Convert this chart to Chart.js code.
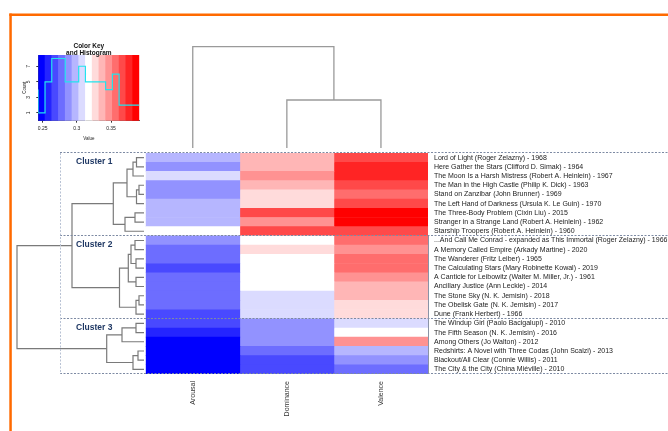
<!DOCTYPE html>
<html>
<head>
<meta charset="utf-8">
<script src="https://cdn.jsdelivr.net/npm/chart.js@4.4.1/dist/chart.umd.min.js"></script>
<style>
  html, body { margin: 0; padding: 0; background: #fff; }
  #wrap { position: relative; width: 668px; height: 431px; overflow: hidden; background: #fff; }
  #wrap canvas { position: absolute; left: 0; top: 0; }
</style>
</head>
<body>
<div id="wrap">
  <canvas id="rowDendro" width="668" height="431"></canvas>
  <canvas id="colDendro" width="668" height="431"></canvas>
  <canvas id="colorKey" width="668" height="431"></canvas>
  <canvas id="heatmap" width="668" height="431"></canvas>
</div>
<script>
// rows, top to bottom as the dendrogram orders them
const bookTitles = [
  'Lord of Light (Roger Zelazny) - 1968',
  'Here Gather the Stars (Clifford D. Simak) - 1964',
  'The Moon Is a Harsh Mistress (Robert A. Heinlein) - 1967',
  'The Man in the High Castle (Philip K. Dick) - 1963',
  'Stand on Zanzibar (John Brunner) - 1969',
  'The Left Hand of Darkness (Ursula K. Le Guin) - 1970',
  'The Three-Body Problem (Cixin Liu) - 2015',
  'Stranger in a Strange Land (Robert A. Heinlein) - 1962',
  'Starship Troopers (Robert A. Heinlein) - 1960',
  '...And Call Me Conrad - expanded as This Immortal (Roger Zelazny) - 1966',
  'A Memory Called Empire (Arkady Martine) - 2020',
  'The Wanderer (Fritz Leiber) - 1965',
  'The Calculating Stars (Mary Robinette Kowal) - 2019',
  'A Canticle for Leibowitz (Walter M. Miller, Jr.) - 1961',
  'Ancillary Justice (Ann Leckie) - 2014',
  'The Stone Sky (N. K. Jemisin) - 2018',
  'The Obelisk Gate (N. K. Jemisin) - 2017',
  'Dune (Frank Herbert) - 1966',
  'The Windup Girl (Paolo Bacigalupi) - 2010',
  'The Fifth Season (N. K. Jemisin) - 2016',
  'Among Others (Jo Walton) - 2012',
  'Redshirts: A Novel with Three Codas (John Scalzi) - 2013',
  'Blackout/All Clear (Connie Willis) - 2011',
  'The City & the City (China Miéville) - 2010'
];
const colNames = ['Arousal', 'Dominance', 'Valence'];

// cell values (estimated from the colour bands)
const arousal = [0.297, 0.288, 0.306, 0.287, 0.289, 0.296, 0.298, 0.295, 0.318,
  0.286, 0.279, 0.277, 0.269, 0.278, 0.280, 0.277, 0.276, 0.267,
  0.268, 0.258, 0.248, 0.247, 0.249, 0.250];
const dominance = [0.337, 0.336, 0.347, 0.338, 0.327, 0.328, 0.367, 0.346, 0.366,
  0.317, 0.327, 0.318, 0.316, 0.319, 0.317, 0.308, 0.307, 0.306,
  0.288, 0.287, 0.289, 0.278, 0.268, 0.269];
const valence = [0.366, 0.376, 0.377, 0.367, 0.357, 0.368, 0.386, 0.387, 0.366,
  0.356, 0.347, 0.357, 0.358, 0.346, 0.337, 0.338, 0.327, 0.328,
  0.307, 0.317, 0.347, 0.297, 0.288, 0.278];
const colValues = [arousal, dominance, valence];

const clusterNames = ['Cluster 1', 'Cluster 2', 'Cluster 3'];
const clusterSizes = [9, 9, 6];

// row dendrogram, hclust style: negative = leaf (row index + 1), positive = earlier merge
const rowMerge = [
  [-1, -2], [1, -3], [-4, -5], [3, -6], [2, 4], [-7, -8], [6, -9], [5, 7],
  [-10, -11], [-12, -13], [9, 10], [-14, -15], [11, 12], [-16, -17], [14, -18], [13, 15],
  [-19, -20], [17, -21], [-22, -23], [19, -24], [18, 20],
  [8, 16], [22, 21]
];
const rowHeight = [0.075, 0.11, 0.05, 0.075, 0.17, 0.09, 0.19, 0.307,
  0.09, 0.08, 0.13, 0.08, 0.157, 0.05, 0.08, 0.245,
  0.08, 0.22, 0.06, 0.11, 0.373,
  0.72, 1.27];
const colMerge = [[-2, -3], [-1, 1]];
const colHeight = [0.48, 1.013];

// colour key
const keyMin = 0.2436, keyMax = 0.3914;
const keyCounts = [4, 1, 5, 8, 8, 5, 5, 7, 5, 5, 5, 4, 6, 2, 2];
const keyTicks = [0.25, 0.3, 0.35];
const keyTickLabels = ['0.25', '0.3', '0.35'];
const countTicks = [1, 3, 5, 7];
const keyYMax = 8.45;

const palette = ['#0000FF', '#2424FF', '#4949FF', '#6D6DFF', '#9292FF', '#B6B6FF', '#DBDBFF', '#FFFFFF',
  '#FFDBDB', '#FFB6B6', '#FF9292', '#FF6D6D', '#FF4949', '#FF2424', '#FF0000'];
const keyBreaks = palette.map((_, i) => keyMin + i * (keyMax - keyMin) / palette.length).concat([keyMax]);

function cellColor(v) {
  let k = keyBreaks.findIndex((b, i) => i > 0 && v < b) - 1;
  if (k < 0) k = palette.length - 1;
  return palette[k];
}

// U shaped links of a dendrogram: [height, position] points
function dendroPaths(merges, heights, leafPos) {
  const nodes = [];
  const node = id => id < 0 ? { pos: leafPos(-id - 1), h: 0 } : nodes[id - 1];
  merges.forEach(([a, b], k) => {
    const A = node(a), B = node(b), h = heights[k];
    nodes.push({ pos: (A.pos + B.pos) / 2, h,
      path: [[A.h, A.pos], [h, A.pos], [h, B.pos], [B.h, B.pos]] });
  });
  return nodes.map(n => n.path);
}

Chart.defaults.font.family = "'Liberation Sans', Arial, sans-serif";
Chart.defaults.animation = false;
Chart.defaults.responsive = false;
Chart.defaults.plugins.legend.display = false;
Chart.defaults.plugins.tooltip.enabled = false;

const FONT = "'Liberation Sans', Arial, sans-serif";

// left row dendrogram
new Chart('rowDendro', {
  type: 'scatter',
  data: {
    datasets: dendroPaths(rowMerge, rowHeight, i => i + 0.5).map(p => ({
      data: p.map(([h, pos]) => ({ x: h, y: pos })),
      showLine: true, borderColor: '#7a7a7a', borderWidth: 1.2, pointRadius: 0, clip: false
    }))
  },
  options: {
    layout: { padding: { left: 17, right: 524, top: 153, bottom: 57 } },
    scales: {
      x: { display: false, min: 0, max: 1.27, reverse: true },
      y: { display: false, min: 0, max: bookTitles.length, reverse: true }
    }
  }
});

// top column dendrogram
new Chart('colDendro', {
  type: 'scatter',
  data: {
    datasets: dendroPaths(colMerge, colHeight, i => i + 0.5).map(p => ({
      data: p.map(([h, pos]) => ({ x: pos, y: h })),
      showLine: true, borderColor: '#9a9a9a', borderWidth: 1.3, pointRadius: 0, clip: false
    }))
  },
  options: {
    layout: { padding: { left: 145.7, right: 240, top: 46.7, bottom: 283 } },
    scales: {
      x: { display: false, min: 0, max: colNames.length },
      y: { display: false, min: 0, max: 1.013 }
    }
  }
});

// colour key with histogram
const keyTitle = {
  id: 'keyTitle',
  afterDraw(chart) {
    const { ctx, chartArea: a } = chart;
    ctx.save();
    ctx.fillStyle = '#111';
    ctx.font = 'bold 6.5px ' + FONT;
    ctx.textAlign = 'center';
    ctx.textBaseline = 'middle';
    const cx = (a.left + a.right) / 2;
    ctx.fillText('Color Key', cx, a.top - 9);
    ctx.fillText('and Histogram', cx, a.top - 1.5);
    ctx.restore();
  }
};

new Chart('colorKey', {
  type: 'bar',
  data: {
    datasets: [
      {
        type: 'line', order: 0,
        data: keyBreaks.map((b, i) => ({ x: b, y: keyCounts[Math.min(i, keyCounts.length - 1)] })),
        stepped: 'after', borderColor: '#22e3ee', borderWidth: 1.2, pointRadius: 0
      },
      {
        type: 'bar', order: 1,
        data: keyCounts.map((_, i) => ({ x: (keyBreaks[i] + keyBreaks[i + 1]) / 2, y: keyYMax })),
        backgroundColor: palette, barPercentage: 1, categoryPercentage: 1
      }
    ]
  },
  options: {
    layout: { padding: { left: 22.3, right: 528.7, top: 55, bottom: 288.3 } },
    scales: {
      x: {
        type: 'linear', min: keyMin, max: keyMax, offset: false,
        grid: { display: true, drawOnChartArea: false, offset: false, tickLength: 2, color: '#333' },
        border: { display: true, color: '#333', width: 0.8 },
        afterBuildTicks: s => { s.ticks = keyTicks.map(v => ({ value: v })); },
        afterFit: s => { s.height = 22; },
        ticks: { padding: 3, color: '#222', font: { size: 5 }, callback: (v, i) => keyTickLabels[i] },
        title: { display: true, text: 'Value', color: '#222', font: { size: 4.5 }, padding: { top: 0, bottom: 1.5 } }
      },
      y: {
        min: 0, max: keyYMax,
        grid: { display: true, drawOnChartArea: false, tickLength: 2, color: '#333' },
        border: { display: true, color: '#333', width: 0.8 },
        afterBuildTicks: s => { s.ticks = countTicks.map(v => ({ value: v })); },
        afterFit: s => { s.width = 16; },
        ticks: { minRotation: 90, maxRotation: 90, crossAlign: 'center', padding: 6, color: '#222', font: { size: 5 } },
        title: { display: true, text: 'Count', color: '#222', font: { size: 4.5 }, padding: 0 }
      }
    }
  },
  plugins: [keyTitle]
});

// heatmap, frame and cluster boxes
const clusterFrame = {
  id: 'clusterFrame',
  beforeDraw(chart) {
    const { ctx } = chart;
    ctx.save();
    ctx.fillStyle = '#ff6a00';
    ctx.fillRect(9.3, 13.5, 660, 2.5);
    ctx.fillRect(9.3, 13.5, 2.5, 420);
    ctx.restore();
  },
  afterDraw(chart) {
    const { ctx, chartArea: a } = chart;
    const rh = (a.bottom - a.top) / bookTitles.length;
    const bounds = [0];
    clusterSizes.forEach(n => bounds.push(bounds[bounds.length - 1] + n));
    ctx.save();
    ctx.lineWidth = 1;
    ctx.setLineDash([2, 1.5]);
    ctx.strokeStyle = '#7d8aa3';
    bounds.forEach(b => {
      const y = Math.round(a.top + b * rh) - 0.5;
      ctx.beginPath(); ctx.moveTo(60, y); ctx.lineTo(668, y); ctx.stroke();
    });
    ctx.strokeStyle = '#b8c2d4';
    ctx.beginPath(); ctx.moveTo(60.5, a.top); ctx.lineTo(60.5, a.bottom); ctx.stroke();
    // thin edge right of the heatmap for the lower two clusters
    ctx.setLineDash([]);
    ctx.strokeStyle = '#8a93a6';
    ctx.beginPath();
    ctx.moveTo(Math.round(a.right) + 0.5, a.top + bounds[1] * rh);
    ctx.lineTo(Math.round(a.right) + 0.5, a.bottom);
    ctx.stroke();
    ctx.fillStyle = '#1f3864';
    ctx.font = 'bold 8.5px ' + FONT;
    ctx.textBaseline = 'middle';
    clusterNames.forEach((n, i) => ctx.fillText(n, 76, a.top + bounds[i] * rh + 8.5));
    ctx.restore();
  }
};

new Chart('heatmap', {
  type: 'bar',
  data: {
    labels: bookTitles,
    datasets: colNames.map((name, c) => ({
      label: name,
      data: bookTitles.map(() => 1),
      backgroundColor: colValues[c].map(cellColor),
      barPercentage: 1, categoryPercentage: 1, borderWidth: 0
    }))
  },
  options: {
    indexAxis: 'y',
    layout: { padding: { left: 145.7, top: 153, right: 0, bottom: 0 } },
    scales: {
      x: {
        type: 'linear', stacked: true, min: 0, max: colNames.length, position: 'bottom',
        grid: { display: false, drawTicks: false }, border: { display: false },
        afterBuildTicks: s => { s.ticks = colNames.map((_, i) => ({ value: i + 0.5 })); },
        afterFit: s => { s.height = 57; },
        ticks: { autoSkip: false, minRotation: 90, maxRotation: 90, padding: 7, color: '#333',
          font: { size: 7 }, callback: (v, i) => colNames[i] }
      },
      y: {
        type: 'category', stacked: true, position: 'right',
        grid: { display: false, drawTicks: false }, border: { display: false },
        afterFit: s => { s.width = 240; },
        ticks: { autoSkip: false, padding: 6, color: '#222', font: { size: 7 } }
      }
    }
  },
  plugins: [clusterFrame]
});
</script>
</body>
</html>
